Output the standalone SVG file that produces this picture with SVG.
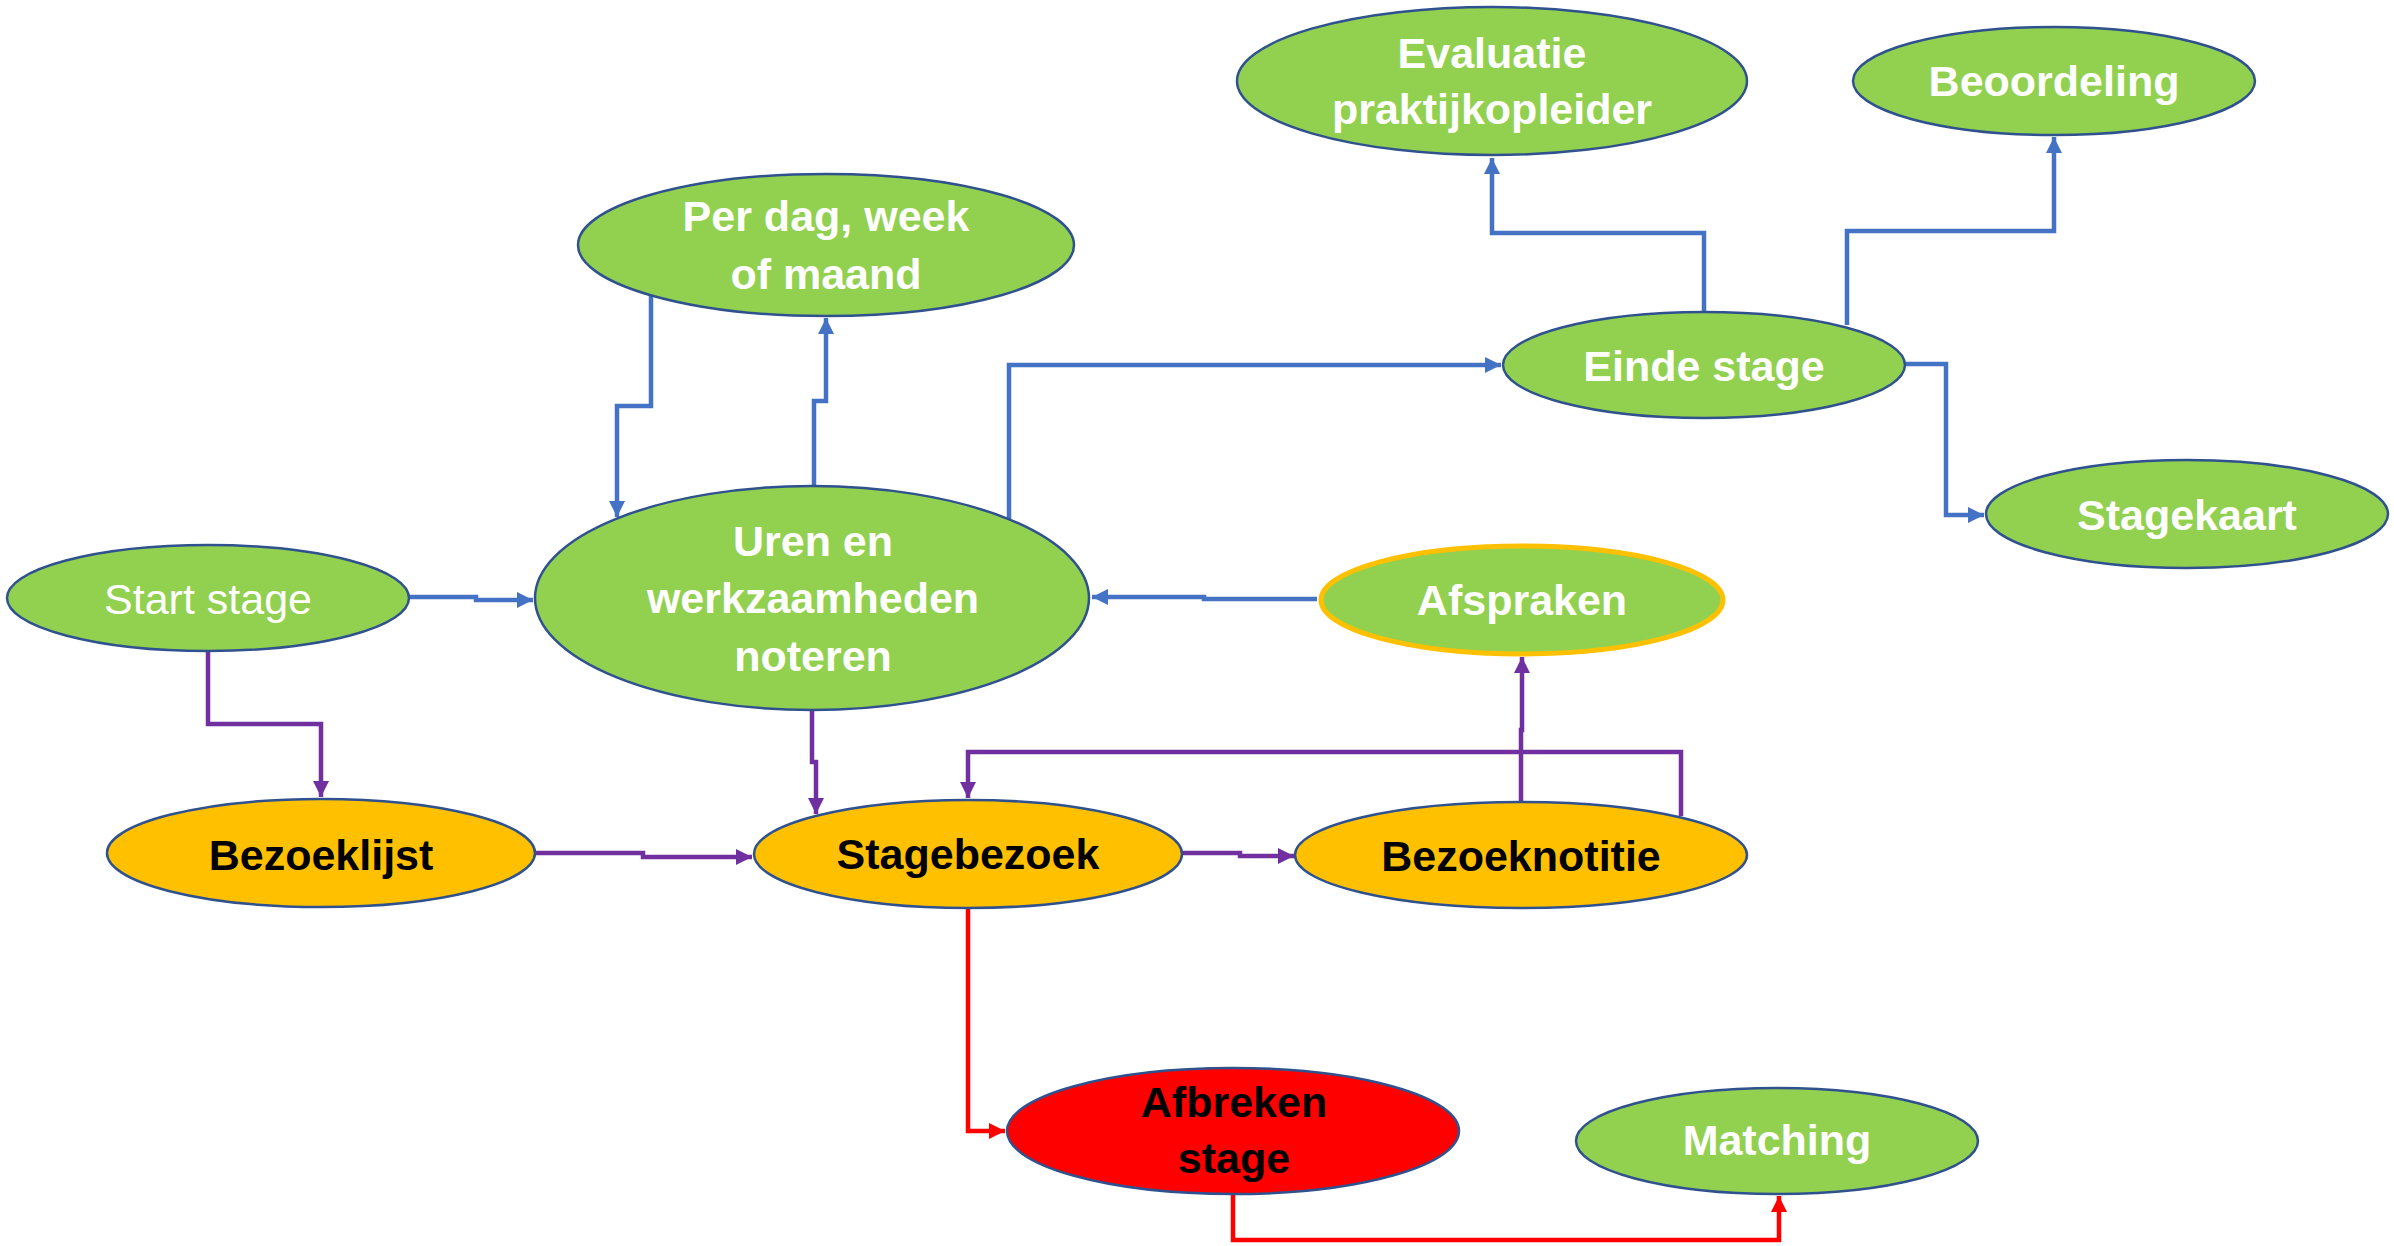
<svg xmlns="http://www.w3.org/2000/svg" width="2394" height="1246" viewBox="0 0 2394 1246">
<style>
.n{stroke:#2F528F;stroke-width:2.5}
.g{fill:#92D050}
.o{fill:#FFC000}
.r{fill:#FF0000}
.t{font-family:"Liberation Sans Narrow","Liberation Sans",Arial,sans-serif;font-size:43px;font-weight:bold;text-anchor:middle}
.w{fill:#FFFFFF}
.k{fill:#000000}
.c{fill:none;stroke-width:4.5}
.b{stroke:#4472C4}
.p{stroke:#7030A0}
.rd{stroke:#FF0000}
</style>
<defs>
<marker id="ab" viewBox="0 0 10 10" refX="10" refY="5" markerWidth="18" markerHeight="16" markerUnits="userSpaceOnUse" orient="auto"><path d="M0,0L10,5L0,10z" fill="#4472C4"/></marker>
<marker id="ap" viewBox="0 0 10 10" refX="10" refY="5" markerWidth="18" markerHeight="16" markerUnits="userSpaceOnUse" orient="auto"><path d="M0,0L10,5L0,10z" fill="#7030A0"/></marker>
<marker id="ar" viewBox="0 0 10 10" refX="10" refY="5" markerWidth="18" markerHeight="16" markerUnits="userSpaceOnUse" orient="auto"><path d="M0,0L10,5L0,10z" fill="#FF0000"/></marker>
</defs>
<rect width="2394" height="1246" fill="#FFFFFF"/>
<g id="connectors">
<path class="c b" d="M409,597H476V600H533" marker-end="url(#ab)"/>
<path class="c b" d="M651,295V406H617V517" marker-end="url(#ab)"/>
<path class="c b" d="M814,486V401H826V318" marker-end="url(#ab)"/>
<path class="c b" d="M1009,519V365H1501" marker-end="url(#ab)"/>
<path class="c b" d="M1704,312V233H1492V158" marker-end="url(#ab)"/>
<path class="c b" d="M1847,325V231H2054V137" marker-end="url(#ab)"/>
<path class="c b" d="M1905,364H1946V515H1984" marker-end="url(#ab)"/>
<path class="c b" d="M1317,599H1204V597H1092" marker-end="url(#ab)"/>
<path class="c p" d="M208,651V724H321V797" marker-end="url(#ap)"/>
<path class="c p" d="M536,853H643V857H752" marker-end="url(#ap)"/>
<path class="c p" d="M812,709V762H816V814" marker-end="url(#ap)"/>
<path class="c p" d="M1181,853H1240V856H1294" marker-end="url(#ap)"/>
<path class="c p" d="M1521,802V730H1522V657" marker-end="url(#ap)"/>
<path class="c p" d="M1681,816V752H968V798" marker-end="url(#ap)"/>
<path class="c rd" d="M968,907V1131H1005" marker-end="url(#ar)"/>
<path class="c rd" d="M1233,1193V1240H1779V1196" marker-end="url(#ar)"/>
</g>
<g id="evaluatie"><ellipse class="n g" cx="1492" cy="81" rx="255" ry="74"/><text class="t w" x="1492" y="68">Evaluatie</text><text class="t w" x="1492" y="124">praktijkopleider</text></g>
<g id="beoordeling"><ellipse class="n g" cx="2054" cy="81" rx="201" ry="54"/><text class="t w" x="2054" y="96">Beoordeling</text></g>
<g id="perdag"><ellipse class="n g" cx="826" cy="245" rx="248" ry="71"/><text class="t w" x="826" y="231">Per dag, week</text><text class="t w" x="826" y="289">of maand</text></g>
<g id="einde"><ellipse class="n g" cx="1704" cy="365" rx="201" ry="53"/><text class="t w" x="1704" y="381">Einde stage</text></g>
<g id="stagekaart"><ellipse class="n g" cx="2187" cy="514" rx="201" ry="54"/><text class="t w" x="2187" y="530">Stagekaart</text></g>
<g id="start"><ellipse class="n g" cx="208" cy="598" rx="201" ry="53"/><text class="t w" x="208" y="614" style="font-weight:normal">Start stage</text></g>
<g id="uren"><ellipse class="n g" cx="812" cy="598" rx="277" ry="112"/><text class="t w" x="813" y="556">Uren en</text><text class="t w" x="813" y="613">werkzaamheden</text><text class="t w" x="813" y="671">noteren</text></g>
<g id="afspraken"><ellipse class="g" cx="1522" cy="600" rx="201" ry="54" stroke="#FFC000" stroke-width="5"/><text class="t w" x="1522" y="615">Afspraken</text></g>
<g id="bezoeklijst"><ellipse class="n o" cx="321" cy="853" rx="214" ry="54"/><text class="t k" x="321" y="870">Bezoeklijst</text></g>
<g id="stagebezoek"><ellipse class="n o" cx="968" cy="854" rx="214" ry="54"/><text class="t k" x="968" y="869">Stagebezoek</text></g>
<g id="bezoeknotitie"><ellipse class="n o" cx="1521" cy="855" rx="226" ry="53"/><text class="t k" x="1521" y="871">Bezoeknotitie</text></g>
<g id="afbreken"><ellipse class="n r" cx="1233" cy="1131" rx="226" ry="63"/><text class="t k" x="1234" y="1117">Afbreken</text><text class="t k" x="1234" y="1173">stage</text></g>
<g id="matching"><ellipse class="n g" cx="1777" cy="1141" rx="201" ry="53"/><text class="t w" x="1777" y="1155">Matching</text></g>
</svg>
